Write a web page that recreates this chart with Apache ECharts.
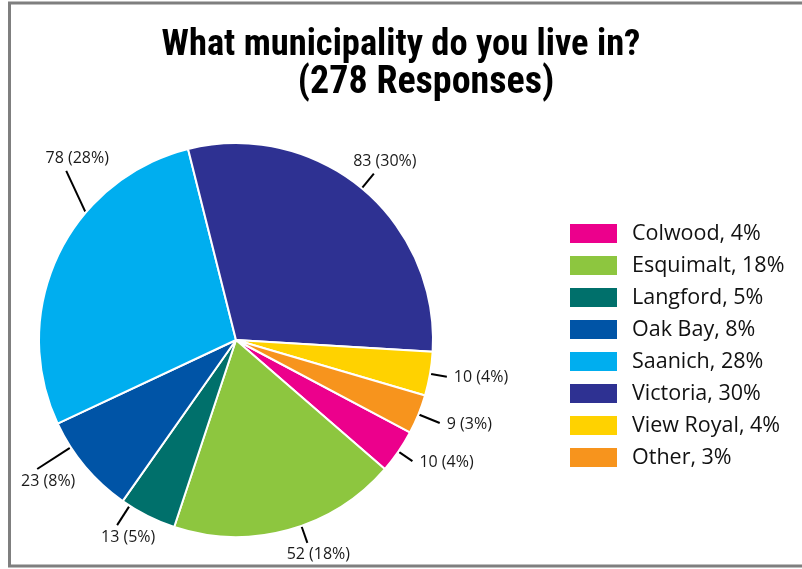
<!DOCTYPE html>
<html>
<head>
<meta charset="utf-8">
<script src="https://cdn.jsdelivr.net/npm/echarts@6/dist/echarts.min.js"></script>
<style>
  html, body { margin: 0; padding: 0; background: #fff; }
  #chart { width: 802px; height: 569px; }
</style>
</head>
<body>
<div id="chart"></div>
<script>
// Data (legend order = clockwise slice order)
var categories = ['Colwood', 'Esquimalt', 'Langford', 'Oak Bay', 'Saanich', 'Victoria', 'View Royal', 'Other'];
var counts = [10, 52, 13, 23, 78, 83, 10, 9];
var percents = [4, 18, 5, 8, 28, 30, 4, 3];
var colors = ['#EC008C', '#8DC63F', '#00706B', '#0054A6', '#00AEEF', '#2E3192', '#FFD200', '#F7941D'];
var titleLine1 = 'What municipality do you live in?';
var titleLine2 = '(278 Responses)';

// Leader-line styling per slice (angle shift of the leader start in degrees,
// optional fixed leader direction in degrees, leader length in px)
var leaderStyle = {
  'Saanich':    { shift: -15, dir: 115, len: 45 },
  'Oak Bay':    { shift: -7, len: 39 },
  'Langford':   { shift: -6, len: 22 },
  'Esquimalt':  { shift: 4, len: 17 },
  'Colwood':    { shift: 0, len: 16 },
  'Other':      { shift: 0, len: 22 },
  'View Royal': { shift: 0, len: 16 },
  'Victoria':   { shift: 0, len: 18 }
};

var chart = echarts.init(document.getElementById('chart'), null, { renderer: 'canvas' });

var pieData = categories.map(function (c, i) {
  return { name: c, value: counts[i], pct: percents[i] };
});

var titleFont = "'Liberation Sans Narrow', 'Roboto Condensed', 'DejaVu Sans Condensed', 'Open Sans', sans-serif";
var bodyFont = "'Open Sans', 'Noto Sans', sans-serif";
var PIE_CENTER = [236, 340];
var PIE_R = 197;
var FRAME_LEFT = 14;

function pieGeom(idx) {
  try {
    var lay = chart.getModel().getSeriesByIndex(0).getData().getItemLayout(idx);
    if (lay && lay.cx != null) return { cx: lay.cx, cy: lay.cy, r: lay.r };
  } catch (e) {}
  return { cx: PIE_CENTER[0], cy: PIE_CENTER[1], r: PIE_R };
}

var option = {
  backgroundColor: '#ffffff',
  animation: false,
  color: colors,
  title: [
    {
      text: titleLine1,
      left: 'center',
      top: 27,
      padding: 0,
      textStyle: { fontFamily: titleFont, fontWeight: 'bold', fontSize: 36.5, color: '#000' }
    },
    {
      text: titleLine2,
      left: 426,
      textAlign: 'center',
      top: 64,
      padding: 0,
      textStyle: { fontFamily: titleFont, fontWeight: 'bold', fontSize: 38, color: '#000' }
    }
  ],
  legend: {
    orient: 'vertical',
    left: 568,
    top: 222,
    padding: 0,
    itemWidth: 49,
    itemHeight: 21,
    itemGap: 9,
    icon: 'rect',
    data: categories,
    formatter: function (name) {
      var i = categories.indexOf(name);
      return name + ', ' + percents[i] + '%';
    },
    textStyle: { fontFamily: bodyFont, fontSize: 21.5, lineHeight: 21, color: '#111', padding: [0, 0, 0, 9] }
  },
  graphic: [
    {
      type: 'rect',
      silent: true,
      shape: { x: 9.5, y: 3, width: 820, height: 563 },
      style: { fill: 'none', stroke: '#7f7f7f', lineWidth: 3 },
      z: 100
    }
  ],
  series: [
    {
      type: 'pie',
      center: PIE_CENTER,
      radius: PIE_R,
      startAngle: 332,
      clockwise: true,
      avoidLabelOverlap: false,
      data: pieData,
      itemStyle: { borderColor: '#ffffff', borderWidth: 2 },
      label: {
        show: true,
        position: 'outside',
        fontFamily: bodyFont,
        fontSize: 16,
        lineHeight: 16,
        color: '#1a1a1a',
        formatter: function (p) { return p.value + ' (' + p.data.pct + '%)'; }
      },
      labelLine: {
        show: true,
        length: 18,
        length2: 0,
        smooth: false,
        lineStyle: { color: '#000', width: 2 }
      },
      labelLayout: function (p) {
        var pts = p.labelLinePoints;
        if (!pts || pts.length < 2) return {};
        var g = pieGeom(p.dataIndex);
        var st = leaderStyle[categories[p.dataIndex]] || { shift: 0, len: 18 };
        var a = pts[0];
        var phi0 = Math.atan2(a[1] - g.cy, a[0] - g.cx);
        var phi = phi0 - st.shift * Math.PI / 180;
        var sx = g.cx + (g.r + 1) * Math.cos(phi);
        var sy = g.cy + (g.r + 1) * Math.sin(phi);
        var psi = st.dir != null ? -st.dir * Math.PI / 180 : phi;
        var dx = Math.cos(psi), dy = Math.sin(psi);
        var ex = sx + dx * st.len, ey = sy + dy * st.len;
        var w = p.labelRect.width / 2, h = p.labelRect.height / 2;
        var x, y;
        if (dx > 0.7) {
          x = ex + 7 + w; y = ey + 1;
        } else if (dx < -0.7 && ex - 7 - 2 * w > FRAME_LEFT) {
          x = ex - 7 - w; y = ey + 1;
        } else {
          x = Math.max(ex + 11, FRAME_LEFT + w);
          y = dy > 0 ? ey + h + 4 : ey - h - 4;
        }
        return {
          x: x,
          y: y,
          align: 'center',
          verticalAlign: 'middle',
          labelLinePoints: [[sx, sy], [ex, ey], [ex, ey]]
        };
      }
    }
  ]
};
chart.setOption(option);
</script>
</body>
</html>
